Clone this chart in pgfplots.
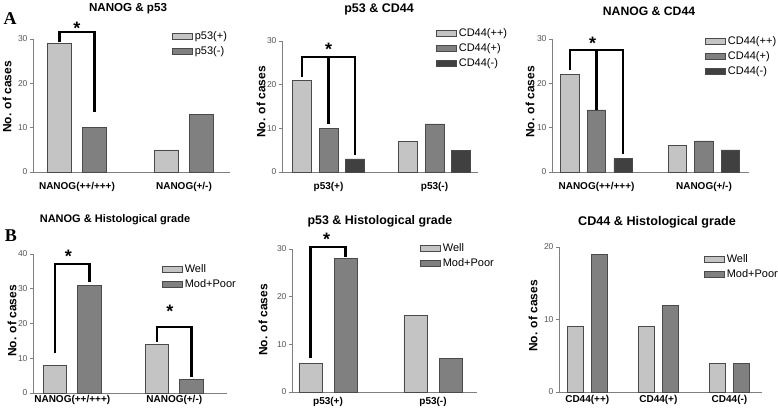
\documentclass[border=0pt]{standalone}
\usepackage{pgfplots}
\pgfplotsset{compat=1.18}
\usepackage{fontspec}
\setmainfont{Liberation Sans}
\newfontfamily\timesfont{Liberation Serif}
\definecolor{lightbar}{HTML}{C4C4C4}
\definecolor{midbar}{HTML}{808080}
\definecolor{darkbar}{HTML}{404040}
\definecolor{edgec}{HTML}{4A4A4A}
\definecolor{axisgray}{HTML}{808080}
\definecolor{tickgray}{HTML}{555555}
\pgfplotsset{
  panel/.style={
    scale only axis, anchor=south west, clip=false,
    axis x line*=bottom, axis y line*=left,
    axis line style={draw=axisgray, line width=0.7pt, -},
    ymin=0, xtick={0,1},
    tick align=outside, major tick length=3pt,
    xtick style={draw=none},
    ytick style={draw=axisgray, line width=0.6pt},
    ytick pos=left,
    yticklabel style={font=\fontsize{8.5}{10}\selectfont, text=tickgray, xshift=1pt},
    xticklabel style={font=\bfseries\fontsize{10}{12}\selectfont},
    /pgf/number format/assume math mode=true,
    legend style={draw=none, fill=none, anchor=north west, font=\fontsize{11}{13}\selectfont, row sep=1.5pt, inner sep=0pt},
    legend cell align=left,
  },
  bw/.style={ybar, bar width=#1, draw=edgec, line width=0.6pt},
  leg/.style={legend image code/.code={\draw[##1, line width=0.6pt] (0pt,-3pt) rectangle (20pt,3pt);}},
}
\tikzset{
  sig/.style={line width=2.2pt, black},
  star/.style={font=\bfseries\fontsize{18}{18}\selectfont, yshift=-3pt},
}
\newcommand{\ylab}{\bfseries\fontsize{12}{14}\selectfont}
\begin{document}
\begin{tikzpicture}
\useasboundingbox (0,0) rectangle (778pt,410pt);

% ---------- Panel 1 ----------
\begin{axis}[panel, at={(33pt,238pt)}, width=197pt, height=133pt,
  xmin=-0.411, xmax=1.43, ymax=30, ytick={0,10,20,30},
  xticklabels={{NANOG(++/+++)},{NANOG(+/-)}},
  xticklabel style={yshift=-3.5pt},
  legend style={at={(0.706,1.075)}}]
\addplot[bw=0.224, bar shift=-0.164, fill=lightbar, leg] coordinates {(0,29) (1,5)};
\addplot[bw=0.224, bar shift=0.164, fill=midbar, leg] coordinates {(0,10) (1,13)};
\legend{p53(+), p53(-)}
\draw[sig] (axis cs:-0.164,29.3) -- (axis cs:-0.164,31.5) -- (axis cs:0.164,31.5) -- (axis cs:0.164,13.6);
\node[star] at (axis cs:0,33.2) {*};
\end{axis}

% ---------- Panel 2 ----------
\begin{axis}[panel, at={(282pt,238pt)}, width=196pt, height=131pt,
  xmin=-0.439, xmax=1.41, ymax=30, ytick={0,10,20,30},
  xticklabels={{p53(+)},{p53(-)}},
  xticklabel style={yshift=-3.5pt},
  legend style={at={(0.786,1.115)}}]
\addplot[bw=0.179, bar shift=-0.25, fill=lightbar, leg] coordinates {(0,21) (1,7)};
\addplot[bw=0.179, bar shift=0, fill=midbar, leg] coordinates {(0,10) (1,11)};
\addplot[bw=0.179, bar shift=0.25, fill=darkbar, leg] coordinates {(0,3) (1,5)};
\legend{CD44(++), CD44(+), CD44(-)}
\draw[sig] (axis cs:-0.25,21.7) -- (axis cs:-0.25,26.3) -- (axis cs:0.25,26.3) -- (axis cs:0.25,3.9);
\draw[sig] (axis cs:0,26.3) -- (axis cs:0,11);
\node[star] at (axis cs:0,28.7) {*};
\end{axis}

% ---------- Panel 3 ----------
\begin{axis}[panel, at={(552pt,238pt)}, width=197pt, height=133pt,
  xmin=-0.414, xmax=1.419, ymax=30, ytick={0,10,20,30},
  xticklabels={{NANOG(++/+++)},{NANOG(+/-)}},
  xticklabel style={yshift=-3.5pt},
  legend style={at={(0.777,1.032)}}]
\addplot[bw=0.172, bar shift=-0.247, fill=lightbar, leg] coordinates {(0,22) (1,6)};
\addplot[bw=0.172, bar shift=0, fill=midbar, leg] coordinates {(0,14) (1,7)};
\addplot[bw=0.172, bar shift=0.247, fill=darkbar, leg] coordinates {(0,3) (1,5)};
\legend{CD44(++), CD44(+), CD44(-)}
\draw[sig] (axis cs:-0.247,23) -- (axis cs:-0.247,27.5) -- (axis cs:0.247,27.5) -- (axis cs:0.247,4.1);
\draw[sig] (axis cs:0,27.5) -- (axis cs:0,14);
\node[star] at (axis cs:-0.035,29.6) {*};
\end{axis}

% ---------- Panel 4 ----------
\begin{axis}[panel, at={(33pt,17pt)}, width=194pt, height=139pt,
  xmin=-0.385, xmax=1.517, ymax=40, ytick={0,10,20,30,40},
  xticklabels={{NANOG(++/+++)},{NANOG(+/-)}},
  xticklabel style={yshift=4pt},
  legend style={at={(0.665,0.942)}}]
\addplot[bw=0.23, bar shift=-0.169, fill=lightbar, leg] coordinates {(0,8) (1,14)};
\addplot[bw=0.23, bar shift=0.169, fill=midbar, leg] coordinates {(0,31) (1,4)};
\legend{Well, Mod+Poor}
\draw[sig] (axis cs:-0.169,11.4) -- (axis cs:-0.169,37.1) -- (axis cs:0.169,37.1) -- (axis cs:0.169,32);
\draw[sig] (axis cs:0.831,14.8) -- (axis cs:0.831,19.1) -- (axis cs:1.169,19.1) -- (axis cs:1.169,4.7);
\node[star] at (axis cs:-0.039,40.2) {*};
\node[star] at (axis cs:0.958,24.4) {*};
\end{axis}

% ---------- Panel 5 ----------
\begin{axis}[panel, at={(292pt,18pt)}, width=185pt, height=143pt,
  xmin=-0.343, xmax=1.419, ymax=30, ytick={0,10,20,30},
  xticklabels={{p53(+)},{p53(-)}},
  xticklabel style={yshift=1.5pt},
  legend style={at={(0.692,1.051)}}]
\addplot[bw=0.219, bar shift=-0.167, fill=lightbar, leg] coordinates {(0,6) (1,16)};
\addplot[bw=0.219, bar shift=0.167, fill=midbar, leg] coordinates {(0,28) (1,7)};
\legend{Well, Mod+Poor}
\draw[sig] (axis cs:-0.167,7.1) -- (axis cs:-0.167,30.4) -- (axis cs:0.167,30.4) -- (axis cs:0.167,28.4);
\node[star] at (axis cs:-0.013,32.6) {*};
\end{axis}

% ---------- Panel 6 ----------
\begin{axis}[panel, at={(559pt,18pt)}, width=203pt, height=145pt,
  xmin=-0.397, xmax=2.457, ymax=20, ytick={0,10,20}, xtick={0,1,2},
  xticklabels={{CD44(++)},{CD44(+)},{CD44(-)}},
  xticklabel style={yshift=3.5pt},
  legend style={at={(0.714,0.963)}}]
\addplot[bw=0.225, bar shift=-0.172, fill=lightbar, leg] coordinates {(0,9) (1,9) (2,4)};
\addplot[bw=0.225, bar shift=0.172, fill=midbar, leg] coordinates {(0,19) (1,12) (2,4)};
\legend{Well, Mod+Poor}
\end{axis}

% ---------- titles, labels ----------
\node[font=\bfseries\fontsize{11.6}{13}\selectfont] at (128pt,401pt) {NANOG \& p53};
\node[font=\bfseries\fontsize{12.5}{14}\selectfont] at (379pt,401pt) {p53 \& CD44};
\node[font=\bfseries\fontsize{12.2}{14}\selectfont] at (649pt,399pt) {NANOG \& CD44};
\node[font=\bfseries\fontsize{11}{13}\selectfont] at (115pt,190pt) {NANOG \& Histological grade};
\node[font=\bfseries\fontsize{12.4}{14}\selectfont] at (380pt,189pt) {p53 \& Histological grade};
\node[font=\bfseries\fontsize{12.6}{14}\selectfont] at (657pt,188pt) {CD44 \& Histological grade};

\node[font=\timesfont\bfseries\fontsize{18}{18}\selectfont] at (10pt,391pt) {A};
\node[font=\timesfont\bfseries\fontsize{18}{18}\selectfont] at (11pt,174pt) {B};

\node[rotate=90, font=\ylab] at (7pt,313pt) {No. of cases};
\node[rotate=90, font=\ylab] at (261pt,308pt) {No. of cases};
\node[rotate=90, font=\ylab] at (530pt,308pt) {No. of cases};
\node[rotate=90, font=\ylab] at (12pt,89pt) {No. of cases};
\node[rotate=90, font=\ylab] at (263pt,90pt) {No. of cases};
\node[rotate=90, font=\ylab] at (533pt,94pt) {No. of cases};
\end{tikzpicture}
\end{document}
